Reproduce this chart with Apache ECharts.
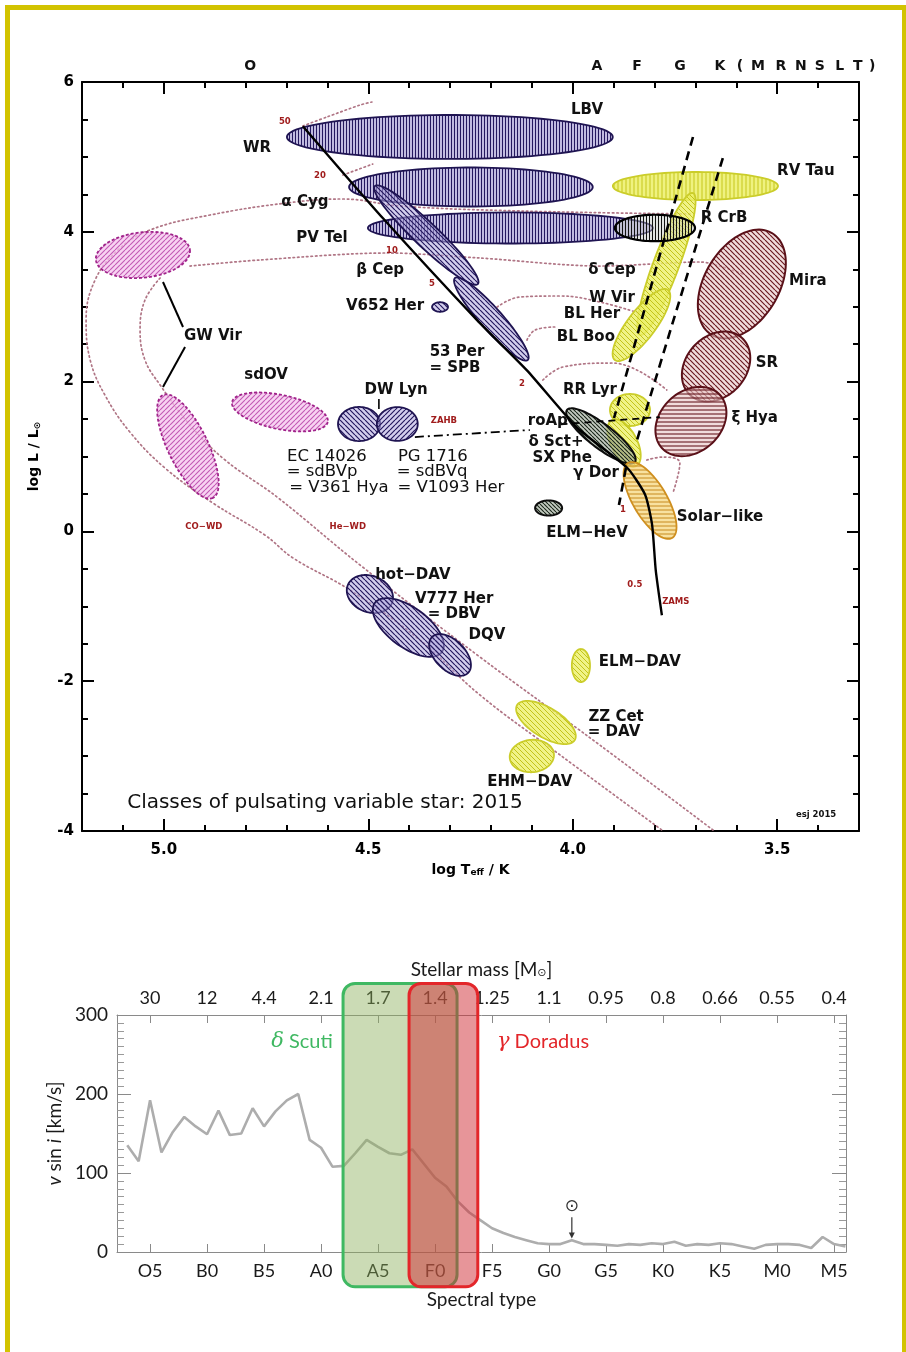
<!DOCTYPE html>
<html><head><meta charset="utf-8">
<script src="https://cdn.jsdelivr.net/npm/echarts@6/dist/echarts.min.js"></script>
<style>html,body{margin:0;padding:0;background:#fff}#c{width:906px;height:1352px}</style>
</head><body><div id="c"></div>
<script>
// ================= DATA: HR diagram (log Teff, log L) =================
const hrTeffTicks = [5.0, 4.5, 4.0, 3.5];
const hrTeffMinor = [5.1, 4.9, 4.8, 4.7, 4.6, 4.4, 4.3, 4.2, 4.1, 3.9, 3.8, 3.7, 3.6, 3.4];
const spectralTop = [['O',4.789],['A',3.941],['F',3.843],['G',3.738],['K',3.640],['(',3.591],['M',3.547],['R',3.491],['N',3.442],['S',3.396],['L',3.347],['T',3.303],[')',3.268]];

// pulsator regions: major-axis tips [T1, L1, T2, L2, minor/major ratio]
const regionNames = ['LBV','aCyg','PVTel','RVTau','deltaCep','WVir','RCrB','betaCep','SPB','V652','GWVir1','GWVir2','sdOV','DWLyn1','DWLyn2','hotDAV','DBV','DQV','ELMHeV','Mira','SR','xiHya','RRLyr','gDor','dSct','solar','ELMDAV','ZZCet','EHMDAV'];
const regions = [
  [4.699,5.266,3.902,5.266,0.135],
  [4.547,4.598,3.951,4.598,0.16],
  [4.501,4.051,3.804,4.051,0.109],
  [3.902,4.611,3.498,4.611,0.17],
  [3.706,4.518,3.836,2.622,0.17],
  [3.767,3.223,3.897,2.288,0.32],
  [3.897,4.051,3.701,4.051,0.33],
  [4.484,4.611,4.232,3.303,0.17],
  [4.288,3.383,4.110,2.288,0.2],
  [4.344,2.996,4.305,2.996,0.6],
  [5.166,3.624,4.936,3.757,0.48],
  [5.002,1.821,4.880,0.446,0.35],
  [4.833,1.728,4.599,1.461,0.35],
  [4.574,1.434,4.471,1.434,0.81],
  [4.479,1.434,4.379,1.434,0.83],
  [4.550,-0.716,4.442,-0.956,0.76],
  [4.484,-0.956,4.320,-1.610,0.48],
  [4.344,-1.410,4.256,-1.890,0.59],
  [4.092,0.312,4.026,0.312,0.56],
  [3.660,2.622,3.513,3.984,0.63],
  [3.713,1.821,3.586,2.582,0.78],
  [3.782,1.113,3.640,1.821,0.77],
  [3.909,1.621,3.811,1.621,0.8],
  [3.904,1.487,3.845,0.873,0.5],
  [4.014,1.621,3.848,0.927,0.28],
  [3.865,0.913,3.757,-0.088,0.39],
  [3.980,-1.570,3.980,-2.011,0.55],
  [4.136,-2.318,3.995,-2.785,0.44],
  [4.154,-3.025,4.046,-2.972,0.73]
];

const zams = [[4.660,5.41],[4.464,4.18],[4.234,2.82],[4.112,2.15],[3.990,1.39],[3.867,0.85],[3.823,0.49],[3.806,0.09],[3.797,-0.52],[3.782,-1.12]];
const stripBlue = [[3.706,5.266],[3.899,1.514]];
const stripBlueLow = [[3.870,0.846],[3.887,0.352]];
const stripRed = [[3.633,4.985],[3.845,1.180]];
const zahb = [[4.386,1.260],[4.105,1.354]];
const zahbRight = [[4.030,1.430],[3.787,1.527]];

const trackOuter = [[3.713,4.238],[4.129,4.278],[4.422,4.344],[4.562,4.438],[4.699,4.385],[4.887,4.224],[5.034,4.024],[5.112,3.757],[5.168,3.356],[5.190,2.822],[5.180,2.288],[5.144,1.821],[5.083,1.327],[4.997,0.846],[4.880,0.379],[4.753,-0.048],[4.684,-0.355],[4.545,-0.782],[4.374,-1.450],[4.227,-2.184],[4.031,-2.985],[3.782,-3.987]];
const trackInner = [[5.009,3.383],[5.046,3.089],[5.058,2.689],[5.046,2.288],[5.009,1.955],[4.936,1.421],[4.850,0.953],[4.723,0.459],[4.520,-0.449],[4.227,-1.677],[3.934,-2.852],[3.657,-3.987]];
const track10 = [[4.936,3.543],[4.765,3.624],[4.454,3.717],[4.227,3.650],[3.934,3.543],[3.689,3.597],[3.579,3.423]];
const track50 = [[4.660,5.413],[4.601,5.533],[4.520,5.693],[4.491,5.733]];
const track20 = [[4.562,4.758],[4.489,4.905]];
const trackWVir = [[4.185,2.996],[4.129,3.130],[4.031,3.143],[3.934,3.063],[3.823,2.889]];
const trackBLBoo = [[4.112,2.555],[4.092,2.689],[4.044,2.729]];
const trackRRLyr = [[4.073,2.021],[4.024,2.195],[3.902,2.248],[3.770,1.888]];
const trackSolar = [[3.819,0.953],[3.779,0.993],[3.738,0.913],[3.755,0.513]];
const pointerGW1 = [[5.002,3.330],[4.953,2.729]];
const pointerGW2 = [[4.948,2.462],[5.002,1.928]];
const pointerDW = [[4.474,1.768],[4.474,1.634]];

// labels [text, T, L]
const hrLabels = [
  ['LBV',3.965,5.626],['WR',4.772,5.119],['α Cyg',4.655,4.398],['PV Tel',4.613,3.917],
  ['β Cep',4.471,3.490],['V652 Her',4.459,3.009],['GW Vir',4.880,2.609],['sdOV',4.750,2.088],
  ['DW Lyn',4.432,1.888],['53 Per',4.283,2.395],['= SPB',4.288,2.182],['δ Cep',3.904,3.490],
  ['W Vir',3.904,3.116],['BL Her',3.953,2.903],['BL Boo',3.968,2.595],['RR Lyr',3.958,1.888],
  ['roAp',4.061,1.474],['δ Sct+',4.041,1.194],['SX Phe',4.026,0.980],['γ Dor',3.943,0.780],
  ['ELM−HeV',3.965,-0.021],['Solar−like',3.640,0.192],['R CrB',3.630,4.184],['RV Tau',3.430,4.812],
  ['Mira',3.425,3.343],['SR',3.525,2.248],['ξ Hya',3.555,1.514],['hot−DAV',4.391,-0.582],
  ['V777 Her',4.290,-0.903],['= DBV',4.290,-1.103],['DQV',4.210,-1.383],['ELM−DAV',3.836,-1.744],
  ['ZZ Cet',3.894,-2.478],['= DAV',3.899,-2.678],['EHM−DAV',4.105,-3.346]
];
const hrNotes = [
  ['EC 14026',4.601,0.993],['= sdBVp',4.613,0.793],['= V361 Hya',4.572,0.579],
  ['PG 1716',4.342,0.993],['= sdBVq',4.344,0.793],['= V1093 Her',4.298,0.579]
];
const hrTitle = [['Classes of pulsating variable star: 2015',4.606,-3.626]];
const hrMassLabels = [
  ['50',4.704,5.466],['20',4.618,4.745],['10',4.442,3.744],['5',4.344,3.303],['2',4.124,1.968],
  ['1',3.877,0.286],['0.5',3.848,-0.716],['ZAMS',3.748,-0.943],['ZAHB',4.315,1.474],
  ['CO−WD',4.902,0.059],['He−WD',4.550,0.059]
];
const hrCredit = [['esj 2015',3.405,-3.786]];

// ================= DATA: v sin i vs spectral type =================
const subclasses = ['O3','O4','O5','O6','O7','O8','O9',
  'B0','B1','B2','B3','B4','B5','B6','B7','B8','B9',
  'A0','A1','A2','A3','A4','A5','A6','A7','A8','A9',
  'F0','F1','F2','F3','F4','F5','F6','F7','F8','F9',
  'G0','G1','G2','G3','G4','G5','G6','G7','G8','G9',
  'K0','K1','K2','K3','K4','K5','K6','K7','K8','K9',
  'M0','M1','M2','M3','M4','M5','M6'];
const vsini = [135,115,192,126,152,171,159,149,179,148,150,182,159,178,192,200,142,132,108,109,125,142,133,125,123,130,112,94,83,64,50,40,30,24,19,15,11,10,10,15,10,10,9,8,10,9,11,10,13,8,10,9,11,10,7,4,9,10,10,9,5,19,10,7];
const specTicks = ['O5','B0','B5','A0','A5','F0','F5','G0','G5','K0','K5','M0','M5'];
const massTicks = ['30','12','4.4','2.1','1.7','1.4','1.25','1.1','0.95','0.8','0.66','0.55','0.4'];
// instability bands [from subclass offset, to, vsini top, vsini bottom] (offset 0 = O5)
const bandNames = ['δ Scuti','γ Doradus'];
const bands = [[16.93,26.93,340,-44],[22.72,28.75,340,-44]];
const bandLabels = [['δ Scuti',13.33,265.8],['γ Doradus',34.47,265.8]];
const sunMark = [[37,58,44,17]]; // G2: symbol, arrow start, arrow tip

// ================= STYLE =================
function pat(bg, fg, dir, s, lw) {
  const c = document.createElement('canvas');
  c.width = s; c.height = s;
  const g = c.getContext('2d');
  g.fillStyle = bg; g.fillRect(0, 0, s, s);
  g.strokeStyle = fg; g.lineWidth = lw; g.beginPath();
  if (dir === 'v') { g.moveTo(s / 2, 0); g.lineTo(s / 2, s); }
  else if (dir === 'h') { g.moveTo(0, s / 2); g.lineTo(s, s / 2); }
  else if (dir === 'b') { for (const o of [-s, 0, s]) { g.moveTo(o, 0); g.lineTo(o + s, s); } }
  else { for (const o of [-s, 0, s]) { g.moveTo(o, s); g.lineTo(o + s, 0); } }
  g.stroke();
  return { image: c, repeat: 'repeat' };
}
const STY = {
  purpleV: { fill: pat('rgba(165,155,215,0.6)', '#24185e', 'v', 3, 1.1), stroke: '#1f1452', lw: 1.8 },
  purpleB: { fill: pat('rgba(175,165,222,0.55)', '#24185e', 'b', 5, 1.2), stroke: '#1f1452', lw: 1.8 },
  purpleF: { fill: pat('rgba(175,165,222,0.55)', '#24185e', 'f', 5, 1.2), stroke: '#1f1452', lw: 1.8 },
  magenta: { fill: pat('rgba(245,196,238,0.75)', '#c25ab5', 'f', 5, 1.1), stroke: '#a0238a', lw: 1.8, dash: [3, 2] },
  yellowV: { fill: pat('rgba(236,240,105,0.85)', '#c6c61c', 'v', 4, 1), stroke: '#cbcd2a', lw: 1.8 },
  yellowB: { fill: pat('rgba(236,240,105,0.8)', '#c3c31a', 'b', 5, 1), stroke: '#cbcd2a', lw: 1.8 },
  orange: { fill: pat('rgba(245,212,120,0.7)', '#c78a1e', 'h', 4, 1), stroke: '#cf8f1f', lw: 1.8 },
  brownB: { fill: pat('rgba(232,196,196,0.6)', '#6b1a22', 'b', 5, 1.2), stroke: '#5a1018', lw: 2 },
  brownH: { fill: pat('rgba(232,196,196,0.6)', '#6b1a22', 'h', 4, 1.1), stroke: '#5a1018', lw: 2 },
  grayB: { fill: pat('rgba(165,175,160,0.65)', '#1a261a', 'b', 4, 1.1), stroke: '#0d0d0d', lw: 2 },
  blackV: { fill: pat('rgba(190,195,190,0.45)', '#111111', 'v', 3, 1), stroke: '#000000', lw: 2.2 }
};
const regionStyle = {
  LBV:'purpleV', aCyg:'purpleV', PVTel:'purpleV', RVTau:'yellowV', deltaCep:'yellowB', WVir:'yellowB',
  RCrB:'blackV', betaCep:'purpleB', SPB:'purpleB', V652:'purpleB', GWVir1:'magenta', GWVir2:'magenta',
  sdOV:'magenta', DWLyn1:'purpleB', DWLyn2:'purpleF', hotDAV:'purpleB', DBV:'purpleB', DQV:'purpleB',
  ELMHeV:'grayB', Mira:'brownB', SR:'brownB', xiHya:'brownH', RRLyr:'yellowB', gDor:'yellowB',
  dSct:'grayB', solar:'orange', ELMDAV:'yellowB', ZZCet:'yellowB', EHMDAV:'yellowB'
};
const HRFONT = '"DejaVu Sans", sans-serif';
const LOWFONT = 'Lato, "Open Sans", sans-serif';
const TRACK = { color: '#b07585', width: 1.7, type: [1.5, 3], cap: 'round' };

function lineSeries(data, lineStyle, extra) {
  return Object.assign({ type: 'line', xAxisIndex: 0, yAxisIndex: 0, data: data, showSymbol: false,
    symbol: 'none', silent: true, lineStyle: lineStyle, z: 3, animation: false }, extra || {});
}
function textSeries(arr, font, color, xi, yi, z) {
  return {
    type: 'custom', xAxisIndex: xi, yAxisIndex: yi, silent: true, z: z || 5,
    data: arr.map(d => [d[1], d[2]]),
    renderItem: function (params, api) {
      const p = api.coord([api.value(0), api.value(1)]);
      return { type: 'text', x: p[0], y: p[1],
        style: { text: arr[params.dataIndex][0], font: font, fill: color, align: 'center', verticalAlign: 'middle' } };
    }
  };
}

const chart = echarts.init(document.getElementById('c'), null, { renderer: 'canvas' });

const axisBlack = { onZero: false, lineStyle: { color: '#000', width: 2 } };
const axisGray = { show: true, onZero: false, lineStyle: { color: '#8a8a8a', width: 1 } };
const majorTickX = { show: true, inside: true, length: 12, customValues: hrTeffTicks, lineStyle: { color: '#000', width: 2 } };
const minorTickX = { show: true, inside: true, length: 6, customValues: hrTeffMinor, lineStyle: { color: '#000', width: 2 } };
const lowTickVals = specTicks.map((s, i) => i * 5);

const option = {
  backgroundColor: '#ffffff',
  animation: false,
  grid: [
    { left: 82, top: 82, width: 777, height: 749 },
    { left: 117, top: 1015, width: 729, height: 237 }
  ],
  xAxis: [
    { gridIndex: 0, type: 'value', min: 3.3, max: 5.2, inverse: true, position: 'bottom',
      axisLine: axisBlack, axisTick: majorTickX, splitLine: { show: false },
      axisLabel: { customValues: hrTeffTicks, formatter: v => v.toFixed(1), color: '#000', fontFamily: HRFONT, fontWeight: 'bold', fontSize: 15, margin: 12 },
      name: 'log T{sub|eff} / K', nameLocation: 'middle', nameGap: 31,
      nameTextStyle: { color: '#000', fontFamily: HRFONT, fontWeight: 'bold', fontSize: 14,
        rich: { sub: { fontFamily: HRFONT, fontWeight: 'bold', fontSize: 9, verticalAlign: 'bottom', padding: [6, 0, 0, 0] } } } },
    { gridIndex: 0, type: 'value', min: 3.3, max: 5.2, inverse: true, position: 'bottom',
      axisLine: { show: false, onZero: false }, axisTick: minorTickX, axisLabel: { show: false }, splitLine: { show: false } },
    { gridIndex: 0, type: 'value', min: 3.3, max: 5.2, inverse: true, position: 'top',
      axisLine: axisBlack, axisTick: majorTickX, axisLabel: { show: false }, splitLine: { show: false } },
    { gridIndex: 0, type: 'value', min: 3.3, max: 5.2, inverse: true, position: 'top',
      axisLine: { show: false, onZero: false }, axisTick: minorTickX, axisLabel: { show: false }, splitLine: { show: false } },
    { gridIndex: 1, type: 'value', min: -2.9, max: 61.05, position: 'bottom',
      axisLine: axisGray,
      axisTick: { show: true, inside: true, length: 8, customValues: lowTickVals, lineStyle: { color: '#8a8a8a' } },
      axisLabel: { customValues: lowTickVals, formatter: v => specTicks[Math.round(v / 5)], color: '#1a1a1a', fontFamily: LOWFONT, fontSize: 18, margin: 10 },
      splitLine: { show: false },
      name: 'Spectral type', nameLocation: 'middle', nameGap: 38,
      nameTextStyle: { color: '#1a1a1a', fontFamily: LOWFONT, fontSize: 19 } },
    { gridIndex: 1, type: 'value', min: -2.9, max: 61.05, position: 'top',
      axisLine: axisGray,
      axisTick: { show: true, inside: true, length: 8, customValues: lowTickVals, lineStyle: { color: '#8a8a8a' } },
      axisLabel: { customValues: lowTickVals, formatter: v => massTicks[Math.round(v / 5)], color: '#1a1a1a', fontFamily: LOWFONT, fontSize: 18, margin: 8 },
      splitLine: { show: false },
      name: 'Stellar mass [M{sub|⊙}]', nameLocation: 'middle', nameGap: 36,
      nameTextStyle: { color: '#1a1a1a', fontFamily: LOWFONT, fontSize: 19,
        rich: { sub: { fontFamily: '"DejaVu Sans"', fontSize: 11, verticalAlign: 'bottom', padding: [8, 0, 0, 0], color: '#1a1a1a' } } } }
  ],
  yAxis: [
    { gridIndex: 0, type: 'value', min: -4, max: 6, interval: 2, position: 'left',
      axisLine: axisBlack,
      axisTick: { show: true, inside: true, length: 12, lineStyle: { color: '#000', width: 2 } },
      minorTick: { show: true, splitNumber: 4, length: 6, lineStyle: { color: '#000', width: 2 } },
      axisLabel: { color: '#000', fontFamily: HRFONT, fontWeight: 'bold', fontSize: 15, margin: 8 },
      splitLine: { show: false },
      name: 'log L / L{sub|⊙}', nameLocation: 'middle', nameGap: 40,
      nameTextStyle: { color: '#000', fontFamily: HRFONT, fontWeight: 'bold', fontSize: 14,
        rich: { sub: { fontFamily: HRFONT, fontWeight: 'bold', fontSize: 9, verticalAlign: 'bottom', padding: [6, 0, 0, 0] } } } },
    { gridIndex: 0, type: 'value', min: -4, max: 6, interval: 2, position: 'right',
      axisLine: axisBlack,
      axisTick: { show: true, inside: true, length: 12, lineStyle: { color: '#000', width: 2 } },
      minorTick: { show: true, splitNumber: 4, length: 6, lineStyle: { color: '#000', width: 2 } },
      axisLabel: { show: false }, splitLine: { show: false } },
    { gridIndex: 1, type: 'value', min: 0, max: 300, interval: 100, position: 'left',
      axisLine: axisGray,
      axisTick: { show: true, inside: true, length: 14, lineStyle: { color: '#8a8a8a' } },
      minorTick: { show: true, splitNumber: 10, length: 7, lineStyle: { color: '#9a9a9a' } },
      axisLabel: { color: '#1a1a1a', fontFamily: LOWFONT, fontSize: 19, margin: 9 },
      splitLine: { show: false },
      name: '{it|v} sin {it|i} [km/s]', nameLocation: 'middle', nameGap: 50,
      nameTextStyle: { color: '#1a1a1a', fontFamily: LOWFONT, fontSize: 19,
        rich: { it: { fontFamily: LOWFONT, fontSize: 19, fontStyle: 'italic', color: '#1a1a1a' } } } },
    { gridIndex: 1, type: 'value', min: 0, max: 300, interval: 100, position: 'right',
      axisLine: axisGray,
      axisTick: { show: true, inside: true, length: 14, lineStyle: { color: '#8a8a8a' } },
      minorTick: { show: true, splitNumber: 10, length: 7, lineStyle: { color: '#9a9a9a' } },
      axisLabel: { show: false }, splitLine: { show: false } }
  ],
  graphic: [
    { type: 'rect', z: 100, silent: true, shape: { x: 7.5, y: 7.5, width: 897, height: 1380 },
      style: { fill: 'none', stroke: '#d2c300', lineWidth: 5 } }
  ],
  series: [
    // dotted evolutionary tracks (under regions)
    lineSeries(trackOuter, TRACK, { smooth: 0.4, z: 1 }),
    lineSeries(trackInner, TRACK, { smooth: 0.4, z: 1 }),
    lineSeries(track10, TRACK, { smooth: 0.3, z: 1 }),
    lineSeries(track50, TRACK, { smooth: 0.3, z: 1 }),
    lineSeries(track20, TRACK, { z: 1 }),
    lineSeries(trackWVir, TRACK, { smooth: 0.4, z: 1 }),
    lineSeries(trackBLBoo, TRACK, { smooth: 0.4, z: 1 }),
    lineSeries(trackRRLyr, TRACK, { smooth: 0.4, z: 1 }),
    lineSeries(trackSolar, TRACK, { smooth: 0.4, z: 1 }),
    // pulsator regions
    {
      type: 'custom', xAxisIndex: 0, yAxisIndex: 0, silent: true, z: 2,
      data: regions.map((r, i) => ({ name: regionNames[i], value: r })),
      renderItem: function (params, api) {
        const a = api.coord([api.value(0), api.value(1)]);
        const b = api.coord([api.value(2), api.value(3)]);
        const cx = (a[0] + b[0]) / 2, cy = (a[1] + b[1]) / 2;
        const ra = Math.hypot(b[0] - a[0], b[1] - a[1]) / 2;
        const rb = ra * api.value(4);
        const th = Math.atan2(b[1] - a[1], b[0] - a[0]);
        const pts = [];
        for (let k = 0; k < 90; k++) {
          const t = 2 * Math.PI * k / 90;
          pts.push([cx + ra * Math.cos(t) * Math.cos(th) - rb * Math.sin(t) * Math.sin(th),
                    cy + ra * Math.cos(t) * Math.sin(th) + rb * Math.sin(t) * Math.cos(th)]);
        }
        const s = STY[regionStyle[regionNames[params.dataIndex]]];
        return { type: 'polygon', shape: { points: pts },
          style: { fill: s.fill, stroke: s.stroke, lineWidth: s.lw, lineDash: s.dash || null } };
      }
    },
    // ZAMS & strip
    lineSeries(zams, { color: '#000', width: 2.4 }, { smooth: 0.2, z: 4 }),
    lineSeries(stripBlue, { color: '#000', width: 2.6, type: [9, 6] }, { z: 4 }),
    lineSeries(stripBlueLow, { color: '#000', width: 2.6, type: [9, 6] }, { z: 4 }),
    lineSeries(stripRed, { color: '#000', width: 2.6, type: [9, 6] }, { z: 4 }),
    lineSeries(zahb, { color: '#000', width: 1.8, type: [9, 4, 2, 4] }, { z: 4 }),
    lineSeries(zahbRight, { color: '#000', width: 1.8, type: [7, 5] }, { z: 4 }),
    lineSeries(pointerGW1, { color: '#000', width: 2 }, { z: 4 }),
    lineSeries(pointerGW2, { color: '#000', width: 2 }, { z: 4 }),
    lineSeries(pointerDW, { color: '#000', width: 1.6 }, { z: 4 }),
    // HR labels
    textSeries(hrLabels, 'bold 15px ' + HRFONT, '#111', 0, 0, 6),
    textSeries(hrNotes, '16.5px ' + HRFONT, '#111', 0, 0, 6),
    textSeries(hrTitle, '20px ' + HRFONT, '#111', 0, 0, 6),
    textSeries(hrMassLabels, 'bold 8.5px ' + HRFONT, '#a01c1c', 0, 0, 6),
    textSeries(hrCredit, 'bold 8.5px ' + HRFONT, '#111', 0, 0, 6),
    textSeries(spectralTop.map(d => [d[0], d[1], 6.214]), 'bold 14px ' + HRFONT, '#111', 0, 0, 6),

    // ---------- lower panel ----------
    { type: 'line', xAxisIndex: 4, yAxisIndex: 2, z: 2, silent: true, showSymbol: false, symbol: 'none',
      data: vsini.map((v, i) => [i - 2, v]),
      lineStyle: { color: '#adadad', width: 2.6 } },
    {
      type: 'custom', xAxisIndex: 4, yAxisIndex: 2, silent: true, z: 8,
      data: bands.map((b, i) => ({ name: bandNames[i], value: b })),
      renderItem: function (params, api) {
        const p0 = api.coord([api.value(0), api.value(2)]);
        const p1 = api.coord([api.value(1), api.value(3)]);
        const green = params.dataIndex === 0;
        return { type: 'rect',
          shape: { x: p0[0], y: p0[1], width: p1[0] - p0[0], height: p1[1] - p0[1], r: 12 },
          style: green ? { fill: 'rgba(140,176,92,0.45)', stroke: '#3fb862', lineWidth: 3 }
                       : { fill: 'rgba(208,44,52,0.5)', stroke: '#e3262a', lineWidth: 3 } };
      }
    },
    {
      type: 'custom', xAxisIndex: 4, yAxisIndex: 2, silent: true, z: 9,
      data: bandLabels.map(d => [d[1], d[2]]),
      renderItem: function (params, api) {
        const p = api.coord([api.value(0), api.value(1)]);
        const green = params.dataIndex === 0;
        const txt = green ? '{g|δ} Scuti' : '{g|γ} Doradus';
        const col = green ? '#3fb862' : '#e3262a';
        return { type: 'text', x: p[0], y: p[1],
          style: { text: txt, fill: col, font: '20px ' + LOWFONT, align: 'center', verticalAlign: 'middle',
            rich: { g: { fontStyle: 'italic', fontFamily: '"DejaVu Serif", serif', fontSize: 21, fill: col } } } };
      }
    },
    {
      type: 'custom', xAxisIndex: 4, yAxisIndex: 2, silent: true, z: 9,
      data: sunMark,
      renderItem: function (params, api) {
        const s = api.coord([api.value(0), api.value(1)]);
        const a0 = api.coord([api.value(0), api.value(2)]);
        const a1 = api.coord([api.value(0), api.value(3)]);
        return { type: 'group', children: [
          { type: 'text', x: s[0], y: s[1], style: { text: '⊙', font: '17px "DejaVu Sans"', fill: '#333', align: 'center', verticalAlign: 'middle' } },
          { type: 'line', shape: { x1: a0[0], y1: a0[1], x2: a1[0], y2: a1[1] - 3 }, style: { stroke: '#333', lineWidth: 1.2 } },
          { type: 'polygon', shape: { points: [[a1[0] - 3, a1[1] - 6], [a1[0] + 3, a1[1] - 6], [a1[0], a1[1]]] }, style: { fill: '#333' } }
        ] };
      }
    }
  ]
};
chart.setOption(option);
</script>
</body></html>
